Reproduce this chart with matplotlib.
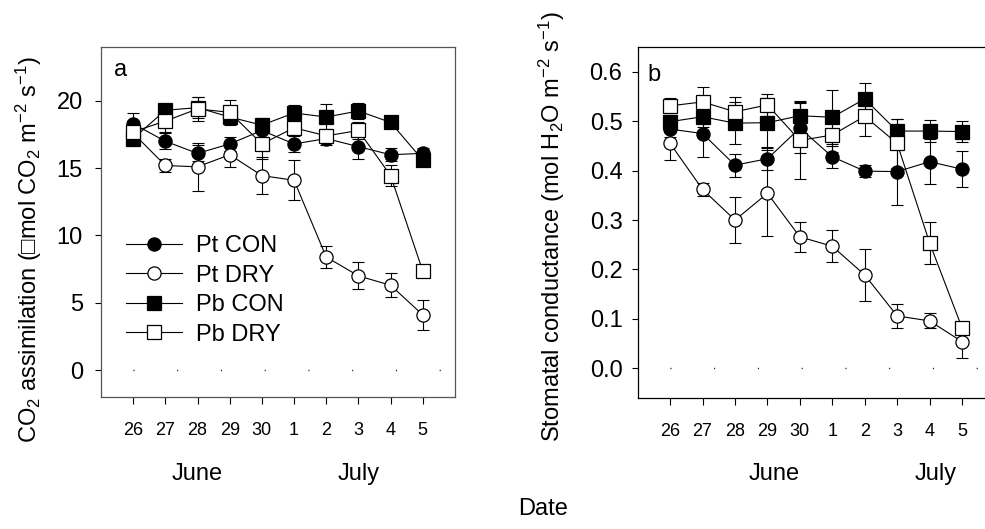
import numpy as np
import matplotlib
matplotlib.use("Agg")
import matplotlib.pyplot as plt

plt.rcParams['font.family'] = ['Liberation Sans', 'DejaVu Sans']
plt.rcParams['mathtext.fontset'] = 'custom'
plt.rcParams['mathtext.rm'] = 'Liberation Sans'
plt.rcParams['mathtext.it'] = 'Liberation Sans'

days = ['26', '27', '28', '29', '30', '1', '2', '3', '4', '5']

# panel a: CO2 assimilation
a_pt_con = [18.3, 17.0, 16.1, 16.8, 17.8, 16.8, 17.2, 16.6, 16.0, 16.1]
a_pt_con_err = [0.8, 0.6, 0.6, 0.5, 0.5, 0.6, 0.5, 0.9, 0.5, 0.4]
a_pt_dry = [17.6, 15.2, 15.1, 16.0, 14.45, 14.1, 8.4, 7.0, 6.3, 4.1]
a_pt_dry_err = [0.6, 0.5, 1.8, 0.9, 1.35, 1.5, 0.8, 1.0, 0.9, 1.1]
a_pb_con = [17.2, 19.3, 19.5, 18.8, 18.2, 19.1, 18.8, 19.25, 18.4, 15.6]
a_pb_con_err = [0.5, 0.4, 0.8, 0.6, 0.5, 0.6, 1.0, 0.6, 0.3, 0.3]
a_pb_dry = [17.7, 18.5, 19.4, 19.15, 16.8, 18.0, 17.4, 17.8, 14.45, 7.35]
a_pb_dry_err = [0.8, 0.8, 0.9, 0.9, 1.1, 0.5, 0.5, 0.6, 0.8, 0.4]

# panel b: stomatal conductance
b_pt_con = [0.484, 0.475, 0.411, 0.424, 0.486, 0.428, 0.399, 0.398, 0.418, 0.403]
b_pt_con_err = [0.015, 0.048, 0.023, 0.022, 0.05, 0.022, 0.012, 0.068, 0.046, 0.037]
b_pt_dry = [0.455, 0.362, 0.300, 0.354, 0.266, 0.247, 0.189, 0.106, 0.096, 0.054]
b_pt_dry_err = [0.034, 0.013, 0.046, 0.087, 0.030, 0.032, 0.052, 0.025, 0.015, 0.033]
b_pb_con = [0.499, 0.509, 0.496, 0.497, 0.511, 0.508, 0.545, 0.480, 0.480, 0.479]
b_pb_con_err = [0.01, 0.02, 0.042, 0.05, 0.03, 0.055, 0.033, 0.025, 0.022, 0.022]
b_pb_dry = [0.531, 0.539, 0.519, 0.533, 0.461, 0.472, 0.510, 0.455, 0.254, 0.082]
b_pb_dry_err = [0.015, 0.03, 0.03, 0.022, 0.078, 0.035, 0.04, 0.05, 0.043, 0.01]

labels = ['Pt CON', 'Pt DRY', 'Pb CON', 'Pb DRY']
markers = ['o', 'o', 's', 's']
faces = ['black', 'white', 'black', 'white']

x = np.arange(len(days))

fig = plt.figure(figsize=(9.85, 5.29), dpi=100)
axA = fig.add_axes([0.1025, 0.2495, 0.3594, 0.6616])
axB = fig.add_axes([0.6474, 0.2476, 0.3622, 0.6635])


def draw(ax, series, errs, ypad):
    for i, (s, e) in enumerate(zip(series, errs)):
        ax.errorbar(x, s, yerr=e, fmt='none', ecolor='black', elinewidth=0.8,
                    capsize=4.5, capthick=0.8, zorder=2 + i)
        ax.plot(x, s, marker=markers[i], ms=9.5, mfc=faces[i], mec='black',
                mew=0.9, color='black', lw=0.8, label=labels[i], zorder=2.5 + i)
    ax.axhline(0, color='black', lw=1.0, linestyle=(8.5, (0.7, 30.8)), zorder=1)
    ax.set_xlim(-1, 10)
    ax.set_xticks(x)
    ax.set_xticklabels(days, fontsize=13)
    ax.tick_params(axis='x', direction='out', length=5, width=0.8, pad=13)
    ax.tick_params(axis='y', direction='out', length=4.5, width=0.8, pad=ypad,
                   labelsize=17)
    ax.tick_params(top=False, right=False)


draw(axA, [a_pt_con, a_pt_dry, a_pb_con, a_pb_dry],
     [a_pt_con_err, a_pt_dry_err, a_pb_con_err, a_pb_dry_err], 8.5)
axA.set_ylim(-2, 24)
axA.set_yticks([0, 5, 10, 15, 20])
for sp in axA.spines.values():
    sp.set_color('#555555')
    sp.set_linewidth(0.9)
axA.text(0.054, 0.934, 'a', transform=axA.transAxes, fontsize=17,
         ha='center', va='center')
axA.legend(loc='upper left', bbox_to_anchor=(0.07, 0.463), frameon=False,
           fontsize=17, handlelength=2.37, handletextpad=0.6, labelspacing=0.32,
           borderpad=0, borderaxespad=0)
tA = axA.get_xaxis_transform()
axA.text(2, -0.237, 'June', transform=tA, fontsize=17, ha='center', va='baseline')
axA.text(7, -0.237, 'July', transform=tA, fontsize=17, ha='center', va='baseline')

draw(axB, [b_pt_con, b_pt_dry, b_pb_con, b_pb_dry],
     [b_pt_con_err, b_pt_dry_err, b_pb_con_err, b_pb_dry_err], 6.5)
axB.set_ylim(-0.06, 0.65)
axB.set_yticks(np.arange(0, 0.61, 0.1))
axB.set_yticklabels(['%.1f' % v for v in np.arange(0, 0.61, 0.1)])
for sp in axB.spines.values():
    sp.set_linewidth(0.9)
axB.text(0.045, 0.92, 'b', transform=axB.transAxes, fontsize=17,
         ha='center', va='center')
tB = axB.get_xaxis_transform()
axB.text(3.2, -0.234, 'June', transform=tB, fontsize=17, ha='center', va='baseline')
axB.text(8.2, -0.234, 'July', transform=tB, fontsize=17, ha='center', va='baseline')

fig.text(29 / 985, 1 - 250 / 529,
         'CO$_2$ assimilation (\u25a1mol CO$_2$ m$^{-2}$ s$^{-1}$)',
         rotation=90, fontsize=17, ha='center', va='center')
fig.text(552 / 985, 1 - 227 / 529,
         'Stomatal conductance (mol H$_2$O m$^{-2}$ s$^{-1}$)',
         rotation=90, fontsize=17, ha='center', va='center')
fig.text(543 / 985, 1 - 515 / 529, 'Date', fontsize=17, ha='center', va='baseline')

fig.savefig('out.png', dpi=100)
